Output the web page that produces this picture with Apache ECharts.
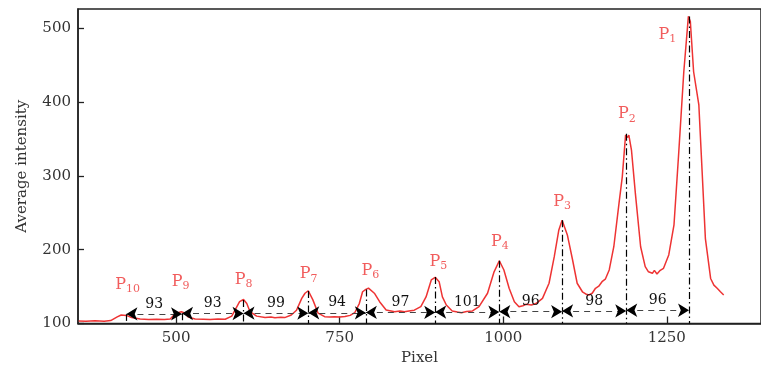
<!DOCTYPE html>
<html><head><meta charset="utf-8">
<script src="https://cdn.jsdelivr.net/npm/echarts@6/dist/echarts.min.js"></script>
<style>html,body{margin:0;padding:0;background:#fff}#c{width:761px;height:372px}</style>
</head><body><div id="c"></div>
<script>
// Curve (pixel position, average intensity)
const pixel = [351,362,376,390,400,410,416,424,432,445,458,470,482,491,498,504,508,514,518,529,542,552,564,575,585,590,597,603,608,613,623,636,645,651,660,666,676,684,692,697,702,709,717,727,735,742,750,758,766,773,780,785,790,794,797,803,811,821,834,842,849,856,864,874,882,890,896,902,907,913,922,930,936,944,953,963,976,986,994,1001,1009,1017,1024,1030,1035,1043,1050,1060,1070,1078,1085,1090,1098,1106,1113,1121,1126,1131,1136,1141,1146,1151,1156,1162,1169,1177,1182,1187,1190,1192,1196,1202,1210,1217,1222,1228,1231,1235,1240,1245,1253,1261,1268,1276,1283,1286,1291,1299,1304,1309,1317,1322,1327,1332,1337];
const intensity = [103.5,103,103.8,103.2,104,109,111.5,111,108,106,105.5,105.8,105.3,106,113,115,116,114,109,106,105.8,105.3,106,105.8,110,118,129.5,132.5,127,116,110,108,108.8,107.8,108.5,108,111.5,118,134,141,144.4,132,114,109.2,108.8,109.3,108.8,109.5,111,114.6,127,143,146.3,148,149,141,129.5,118.3,116,116.8,115.8,117,118,122.8,136,159,162.6,156.6,136,125,117,115.5,114.6,116.2,117,122.8,141,170,185,172.5,147.7,129.5,122.8,124,126,125,127,134,154.5,190.5,226.7,240,220,186,154.5,143,140,138.6,141,147.7,150.5,156.6,160,172.5,204,263,299,355.4,352,355,335,276,204,177,170,168,172,167,172,174.8,192.8,233.5,328,441,516,509,441,396,306,215,161,152,147.7,143,138.6];

// Peaks P1..P10
const peakNumber = [1,2,3,4,5,6,7,8,9,10];
const peakPixel = [1284,1188,1090,994,896,790,702,603,509,424];
const peakIntensity = [516,357,240,185,163,146,144,132,114,113];
const labelPixel = [1251,1189,1090,995,901,797,702.5,603,507,426];
const labelIntensity = [490,382,264,209,182,170,165.5,157.5,155.5,151.5];

// Spacings between neighbouring peaks (P1-P2, P2-P3, ... P9-P10)
const spacing = [96,98,96,101,97,94,99,93,93];
const arrowLevel = [118,117,116,115.5,115,114.5,114,113.5,113];

const xTicks = [500,750,1000,1250];
const yTicks = [100,200,300,400,500];

const FONT = 'DejaVu Serif';
const RED = '#ee3333';

const chart = echarts.init(document.getElementById('c'), null, {renderer:'canvas'});

const peakLines = peakPixel.map((x,i)=>[{coord:[x,peakIntensity[i]]},{coord:[x,100]}]);
const arrowPairs = spacing.map((d,i)=>[
  {name:String(d), coord:[peakPixel[i+1], arrowLevel[i]]},
  {coord:[peakPixel[i], arrowLevel[i]]}
]);

chart.setOption({
  animation:false,
  backgroundColor:'#fff',
  grid:{left:78,right:-2,top:9,bottom:48.5,show:true,borderColor:'#222',borderWidth:1.5,backgroundColor:'transparent'},
  xAxis:{
    type:'value',min:350,max:1394,
    name:'Pixel',nameLocation:'middle',nameGap:26,
    nameTextStyle:{fontFamily:FONT,fontSize:15,color:'#333'},
    axisLine:{show:true,lineStyle:{color:'#222',width:1.5}},
    axisTick:{show:true,inside:true,length:7,customValues:xTicks,lineStyle:{color:'#222',width:1.3}},
    axisLabel:{customValues:xTicks,margin:7,fontFamily:FONT,fontSize:15,color:'#333',formatter:v=>String(v)},
    splitLine:{show:false}
  },
  yAxis:{
    type:'value',min:100,max:526,
    name:'Average intensity',nameLocation:'middle',nameGap:48,
    nameTextStyle:{fontFamily:FONT,fontSize:15,color:'#333'},
    axisLine:{show:true,lineStyle:{color:'#222',width:1.5}},
    axisTick:{show:true,inside:true,length:6,customValues:yTicks,lineStyle:{color:'#222',width:1.3}},
    axisLabel:{customValues:yTicks,margin:7,fontFamily:FONT,fontSize:15,color:'#333',formatter:v=>String(v)},
    splitLine:{show:false}
  },
  series:[
    {
      type:'line',data:pixel.map((x,i)=>[x,intensity[i]]),
      showSymbol:false,symbol:'none',
      lineStyle:{color:RED,width:1.5},z:3
    },
    {
      type:'line',data:[],z:4,
      markLine:{silent:true,symbol:'none',animation:false,
        lineStyle:{color:'#000',width:1.2,type:[7,3,1.5,3]},
        label:{show:false},
        data:peakLines}
    },
    {
      type:'line',data:[],z:5,
      markLine:{silent:true,animation:false,
        symbol:'none',
        lineStyle:{color:'#444',width:1,type:[6,5]},
        label:{show:true,position:'middle',distance:3,formatter:'{b}',fontFamily:FONT,fontSize:14,color:'#111'},
        data:arrowPairs}
    },
    {
      type:'line',data:[],z:6,
      markLine:{silent:true,animation:false,
        symbol:['arrow','arrow'],symbolSize:[10,11],
        lineStyle:{color:'#000',width:0},
        label:{show:false},
        data:arrowPairs}
    },
    {
      type:'scatter',symbolSize:1,itemStyle:{color:'rgba(0,0,0,0)'},z:7,
      data:labelPixel.map((x,i)=>[x,labelIntensity[i],peakNumber[i]]),
      label:{show:true,position:'inside',
        formatter:p=>'{p|P}{s|'+p.value[2]+'}',
        rich:{
          p:{fontFamily:FONT,fontSize:16,color:RED,verticalAlign:'bottom',padding:[0,0,2,0]},
          s:{fontFamily:FONT,fontSize:11,color:RED,verticalAlign:'bottom'}
        }}
    }
  ]
});
</script>
</body></html>
